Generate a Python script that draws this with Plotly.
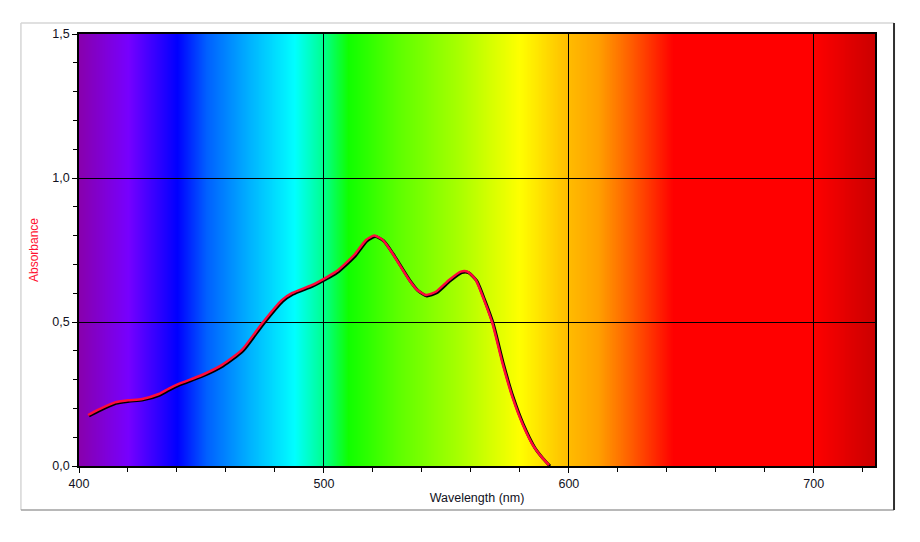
import base64, struct, zlib
import numpy as np
import plotly.graph_objects as go

# ---- data ----
wavelength = [403.7, 407.5, 414.7, 420.0, 425.8, 432.6, 436.5, 440.7, 450.2, 458.4,
              466.5, 474.7, 482.8, 486.9, 495.0, 500.0, 505.0, 512.4, 517.2, 520.6,
              524.0, 528.0, 534.8, 538.0, 541.6, 545.7, 551.1, 555.9, 558.6, 562.0,
              565.4, 568.8, 572.9, 576.9, 581.0, 585.7, 589.0, 591.9]
absorbance = [0.177, 0.194, 0.221, 0.228, 0.233, 0.250, 0.268, 0.285, 0.316, 0.351,
              0.403, 0.495, 0.576, 0.600, 0.628, 0.650, 0.675, 0.733, 0.785, 0.800,
              0.785, 0.738, 0.646, 0.612, 0.594, 0.605, 0.646, 0.675, 0.675, 0.646,
              0.576, 0.495, 0.357, 0.241, 0.148, 0.067, 0.030, 0.003]

x_ticks = [400, 500, 600, 700]
y_ticks = [0.0, 0.5, 1.0, 1.5]

# spectrum background stops (nm, colour)
spec_nm = [400, 420, 440, 452, 470, 488, 500, 510, 530, 555, 580, 600, 612, 625, 643, 700, 725]
spec_col = ["#8800AE", "#7700FF", "#0000FF", "#0060FF", "#00B4FF", "#00FFFF", "#00FF8C",
            "#10FF00", "#5CFF00", "#A8FF00", "#FFFF00", "#FFBC00", "#FFA000", "#FF6000",
            "#FF0000", "#FF0000", "#CC0000"]

X_MIN, X_MAX = 400, 725
Y_MIN, Y_MAX = 0.0, 1.5


def hex2rgb(h):
    h = h.lstrip("#")
    return [int(h[i:i + 2], 16) for i in (0, 2, 4)]


# build gradient png (a few identical rows)
grid = np.linspace(X_MIN, X_MAX, 651)
rgb = np.array([hex2rgb(c) for c in spec_col], dtype=float)
cols = np.stack([np.interp(grid, spec_nm, rgb[:, k]) for k in range(3)], axis=1).round().astype(np.uint8)


def make_png(pixels, rows=4):
    w = pixels.shape[0]
    raw = (b"\x00" + pixels.tobytes()) * rows
    def chunk(t, d):
        c = struct.pack(">I", len(d)) + t + d
        return c + struct.pack(">I", zlib.crc32(t + d) & 0xffffffff)
    png = b"\x89PNG\r\n\x1a\n"
    png += chunk(b"IHDR", struct.pack(">IIBBBBB", w, rows, 8, 2, 0, 0, 0))
    png += chunk(b"IDAT", zlib.compress(raw))
    png += chunk(b"IEND", b"")
    return "data:image/png;base64," + base64.b64encode(png).decode()


bg_src = make_png(cols)

W, H = 920, 542
ML, MR, MT, MB = 79, 44, 34, 75
PW = W - ML - MR
PH = H - MT - MB
XD = [0, (PW - 1) / PW]
YD = [1 / PH, 1]

fig = go.Figure()

# shadow line (offset axes, 1px right/down)
fig.add_trace(go.Scatter(x=wavelength, y=absorbance, mode="lines", xaxis="x2", yaxis="y2",
                         line=dict(color="#000000", width=3, shape="spline", smoothing=0.6),
                         hoverinfo="skip", showlegend=False))
# main red line on top
fig.add_trace(go.Scatter(x=wavelength, y=absorbance, mode="lines", xaxis="x3", yaxis="y3",
                         line=dict(color="#FF0A3C", width=2.5, shape="spline", smoothing=0.6),
                         showlegend=False))

font = dict(family="Liberation Sans, Arial, sans-serif", size=12.5, color="#111122")

fig.update_layout(
    width=W, height=H,
    margin=dict(l=ML, r=MR, t=MT, b=MB),
    paper_bgcolor="white", plot_bgcolor="rgba(0,0,0,0)",
    separators=",.",
    font=font,
    images=[dict(source=bg_src, xref="x", yref="y", x=X_MIN, y=Y_MAX,
                 sizex=X_MAX - X_MIN, sizey=Y_MAX - Y_MIN, sizing="stretch",
                 layer="below", xanchor="left", yanchor="top")],
    xaxis=dict(domain=XD, range=[X_MIN, X_MAX], tickvals=x_ticks,
               showgrid=True, gridcolor="black", gridwidth=1, zeroline=False,
               showline=True, linecolor="black", linewidth=2, mirror=True,
               ticks="outside", ticklen=5, tickcolor="black",
               minor=dict(dtick=20, ticks="outside", ticklen=4, tickcolor="black", showgrid=False),
               title=dict(text="Wavelength (nm)", font=dict(size=12.5, color="#111122"), standoff=3)),
    yaxis=dict(domain=YD, range=[Y_MIN, Y_MAX], tickvals=y_ticks, tickformat=".1f",
               showgrid=True, gridcolor="black", gridwidth=1, zeroline=False,
               showline=True, linecolor="black", linewidth=1.5, mirror=True,
               ticks="outside", ticklen=5, tickcolor="black",
               minor=dict(dtick=0.1, ticks="outside", ticklen=4, tickcolor="black", showgrid=False),
               title=dict(text="Absorbance", font=dict(size=12, color="#FF1030"), standoff=11)),
    xaxis2=dict(domain=[1 / PW, 1], range=[X_MIN, X_MAX], visible=False, anchor="y2"),
    yaxis2=dict(domain=[0, 1 - 1 / PH], range=[Y_MIN, Y_MAX], visible=False, anchor="x2"),
    xaxis3=dict(domain=XD, range=[X_MIN, X_MAX], visible=False, anchor="y3"),
    yaxis3=dict(domain=YD, range=[Y_MIN, Y_MAX], visible=False, anchor="x3"),
)

# outer frame
fx0 = (21 - ML) / (PW - 1)
fx1 = (893 - ML) / (PW - 1)
fy0 = -(509 - (H - MB - 1)) / (PH - 1)
fy1 = ((H - MB - 1) - 23) / (PH - 1)
fig.update_layout(shapes=[
    dict(type="line", xref="paper", yref="paper", x0=fx0, x1=fx1, y0=fy1, y1=fy1,
         line=dict(color="#D6D6D6", width=1.5)),
    dict(type="line", xref="paper", yref="paper", x0=fx0, x1=fx0, y0=fy0, y1=fy1,
         line=dict(color="#D6D6D6", width=1.5)),
    dict(type="line", xref="paper", yref="paper", x0=fx0, x1=fx1, y0=fy0, y1=fy0,
         line=dict(color="#A0A0A0", width=1.5)),
    dict(type="line", xref="paper", yref="paper", x0=fx1, x1=fx1, y0=fy0, y1=fy1,
         line=dict(color="#303030", width=2)),
])

fig.write_html("out.html")
